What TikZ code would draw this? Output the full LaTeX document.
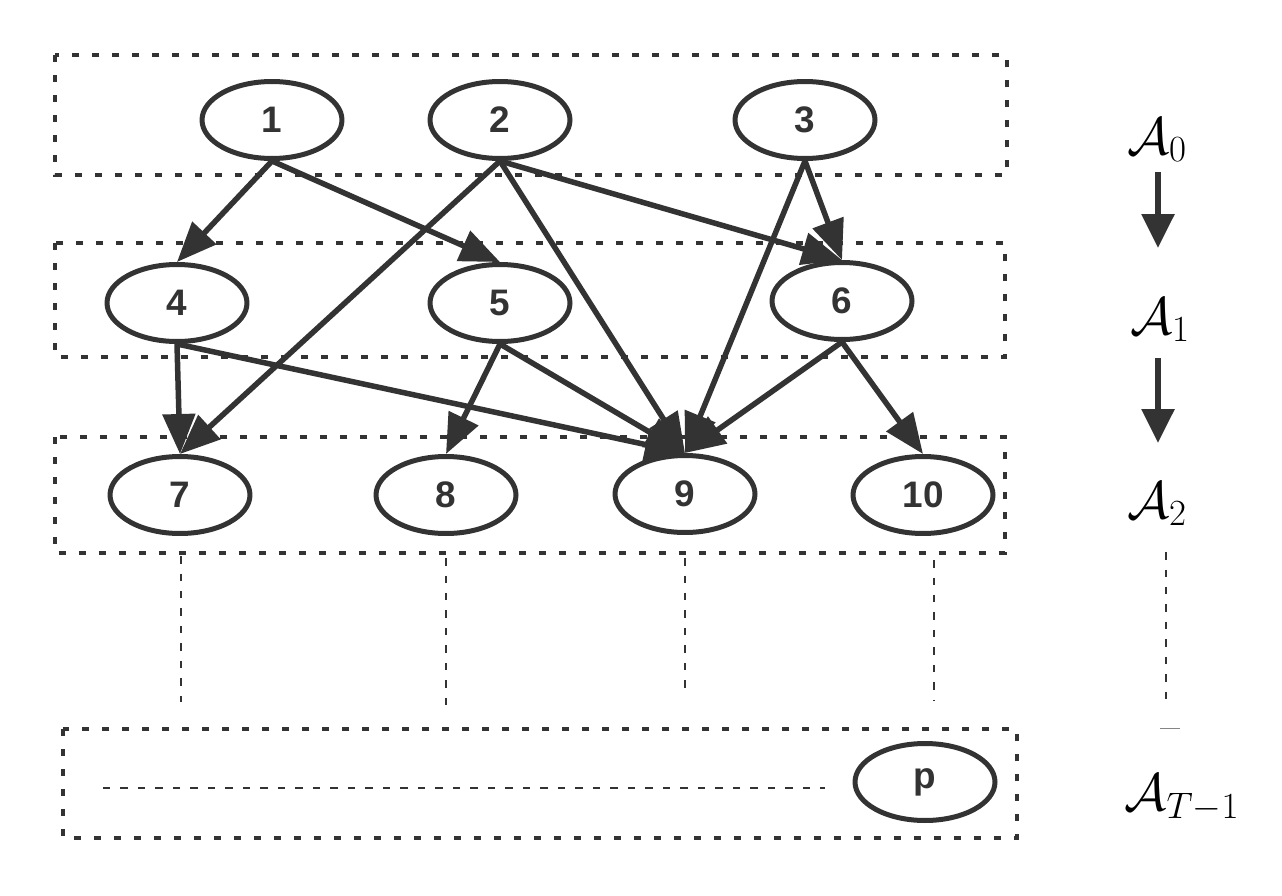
\RequirePackage{fix-cm}
\documentclass[tikz,border=0pt]{standalone}
\usepackage{fontspec}
\setmainfont{Liberation Sans}
\usetikzlibrary{shapes.geometric,arrows.meta}
\definecolor{ink}{HTML}{333333}
\begin{document}
\begin{tikzpicture}[x=0.02cm,y=-0.02cm,
  st/.style={draw=ink,ellipse,line width=0.1cm,minimum width=2.8cm,minimum height=1.54cm,inner sep=0pt,
    font=\fontsize{21}{24}\selectfont\bfseries,text=ink},
  layer/.style={draw=ink,line width=0.09cm,dash pattern=on 0.14cm off 0.26cm},
  thin/.style={draw=ink,line width=0.035cm,dash pattern=on 0.15cm off 0.2cm},
  edge/.style={draw=ink,line width=0.11cm,-{Triangle[length=0.8cm,width=0.64cm]}},
  side/.style={draw=ink,line width=0.12cm,-{Triangle[length=0.68cm,width=0.64cm]}},
  lab/.style={font=\fontsize{30}{36}\selectfont,text=black}]
\useasboundingbox[fill=white] (0,0) rectangle (1282,896);
% layer boxes
\draw[layer] (55,55) rectangle (1007,175);
\draw[layer] (55,243) rectangle (1005,357);
\draw[layer] (55,437) rectangle (1005,553);
\draw[layer] (63,729) rectangle (1017,838);
% nodes
\node[st] (n1) at (272,120) {\raisebox{-0.16cm}{1}};
\node[st] (n2) at (500,120) {\raisebox{-0.16cm}{2}};
\node[st] (n3) at (805,120) {\raisebox{-0.16cm}{3}};
\node[st] (n4) at (177,303) {\raisebox{-0.12cm}{4}};
\node[st] (n5) at (500,303) {\raisebox{-0.12cm}{5}};
\node[st] (n6) at (842,301) {\raisebox{-0.12cm}{6}};
\node[st] (n7) at (180,495) {\raisebox{-0.1cm}{7}};
\node[st] (n8) at (446,495) {\raisebox{-0.1cm}{8}};
\node[st] (n9) at (685,494) {\raisebox{-0.1cm}{9}};
\node[st] (n10) at (923,495) {\raisebox{-0.1cm}{10}};
\node[st] (np) at (925,782) {\raisebox{-0.1cm}{p}};
% edges
\draw[edge] (n1.south) -- (n4.north);
\draw[edge] (n1.south) -- (n5.north);
\draw[edge] (n2.south) -- (n7.north);
\draw[edge] (n2.south) -- (n9.north);
\draw[edge] (n2.south) -- (n6.north);
\draw[edge] (n3.south) -- (n9.north);
\draw[edge] (n3.south) -- (n6.north);
\draw[edge] (n4.south) -- (n7.north);
\draw[edge] (n4.south) -- (n9.north);
\draw[edge] (n5.south) -- (n8.north);
\draw[edge] (n5.south) -- (n9.north);
\draw[edge] (n6.south) -- (n9.north);
\draw[edge] (n6.south) -- (n10.north);
% thin dashed continuations
\coordinate (d7a) at (181,556); \coordinate (d7b) at (181,702);
\coordinate (d8a) at (446,558); \coordinate (d8b) at (446,706);
\coordinate (d9a) at (685,558); \coordinate (d9b) at (685,696);
\coordinate (d10a) at (934,560); \coordinate (d10b) at (934,700);
\draw[thin] (d7a) -- (d7b);
\draw[thin] (d8a) -- (d8b);
\draw[thin] (d9a) -- (d9b);
\draw[thin] (d10a) -- (d10b);
\coordinate (ha) at (103,788); \coordinate (hb) at (825,788);
\draw[thin] (ha) -- (hb);
% side labels
\node[lab] (a0) at (1157,140) {$\mathcal{A}_0$};
\node[lab] (a1) at (1160,320) {$\mathcal{A}_1$};
\node[lab] (a2) at (1157,504) {$\mathcal{A}_2$};
\node[lab] (aT) at (1182,798) {$\mathcal{A}_{T-1}$};
\coordinate (s0a) at (1158,172); \coordinate (s0b) at (1158,248);
\coordinate (s1a) at (1158,358); \coordinate (s1b) at (1158,443);
\draw[side] (s0a) -- (s0b);
\draw[side] (s1a) -- (s1b);
\coordinate (v1) at (1166,552); \coordinate (v2) at (1166,700);
\draw[thin] (v1) -- (v2);
\coordinate (m1) at (1160,728); \coordinate (m2) at (1180,728);
\draw[draw=ink!60,line width=0.02cm] (m1) -- (m2);
\end{tikzpicture}
\end{document}
